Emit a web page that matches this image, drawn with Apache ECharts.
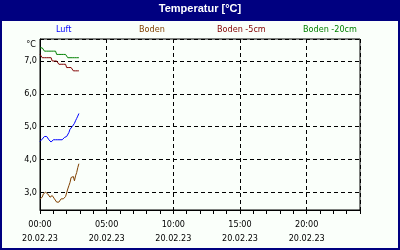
<!DOCTYPE html>
<html><head><meta charset="utf-8">
<script src="https://cdn.jsdelivr.net/npm/echarts@6/dist/echarts.min.js"></script>
<style>html,body{margin:0;padding:0;background:#fafffa}#c{width:400px;height:250px}</style>
</head><body><div id="c"></div><script>
const times = ['00:00','00:05','00:10','00:15','00:20','00:25','00:30','00:35','00:40','00:45','00:50','00:55',
  '01:00','01:05','01:10','01:15','01:20','01:25','01:30','01:35','01:40','01:45','01:50','01:55',
  '02:00','02:05','02:10','02:15','02:20','02:25','02:30','02:35','02:40','02:45','02:50','02:55'];
const luft = [4.55,4.52,4.62,4.67,4.70,4.70,4.70,4.68,4.60,4.55,4.53,4.58,
  4.60,4.60,4.60,4.60,4.60,4.60,4.60,4.60,4.60,4.62,4.67,4.70,
  4.70,4.72,4.82,4.92,4.97,5.00,5.05,5.10,5.18,5.25,5.32,5.40];
const boden = [2.80,2.75,2.85,2.95,3.00,3.00,3.00,2.95,2.90,2.85,2.85,2.90,
  2.88,2.80,2.75,2.70,2.70,2.70,2.75,2.80,2.80,2.80,2.82,2.87,
  2.92,3.10,3.20,3.30,3.45,3.40,3.48,3.35,3.50,3.60,3.75,3.87];
const boden5 = [7.2,7.2,7.1,7.1,7.1,7.1,7.1,7.1,7.1,7.1,7.1,7.0,
  7.0,7.0,7.0,7.0,7.0,6.9,6.9,6.9,6.9,6.9,6.9,6.9,
  6.8,6.8,6.8,6.8,6.8,6.8,6.7,6.7,6.7,6.7,6.7,6.7];
const boden20 = [7.4,7.4,7.4,7.4,7.3,7.3,7.3,7.3,7.3,7.3,7.3,7.3,
  7.3,7.3,7.3,7.2,7.2,7.2,7.2,7.2,7.2,7.2,7.2,7.2,
  7.2,7.1,7.1,7.1,7.1,7.1,7.1,7.1,7.1,7.1,7.1,7.1];
const seriesNames = ['Luft','Boden','Boden -5cm','Boden -20cm'];
const seriesColors = ['#0000ff','#804000','#800000','#008000'];
const xTickLabels = ['00:00','05:00','10:00','15:00','20:00'];
const xDateLabel = '20.02.23';
const yTickLabels = {3:'3,0',4:'4,0',5:'5,0',6:'6,0',7:'7,0'};

const FONT = "'DejaVu Sans Condensed','DejaVu Sans',sans-serif";
const toHours = t => { const p = t.split(':'); return +p[0] + (+p[1]) / 60; };
const mk = arr => times.map((t, i) => [toHours(t), arr[i]]);
const dataSets = [luft, boden, boden5, boden20];
const legendLeft = [51, 134, 212, 298];

const chart = echarts.init(document.getElementById('c'), null, {renderer: 'canvas'});
chart.setOption({
  animation: false,
  backgroundColor: '#fafffa',
  graphic: [
    {type: 'rect', z: 0, shape: {x: 0, y: 0, width: 400, height: 21}, style: {fill: '#000080'}},
    {type: 'rect', z: 0, shape: {x: 1, y: 1, width: 398, height: 248}, style: {fill: 'none', stroke: '#000080', lineWidth: 2}}
  ],
  title: {text: 'Temperatur [°C]', left: 'center', top: 3, padding: 0,
    textStyle: {color: '#fff', fontSize: 11, fontWeight: 'bold', fontFamily: "'Liberation Sans',Arial,sans-serif"}},
  legend: seriesNames.map((n, i) => ({
    left: legendLeft[i], top: 25, padding: 0, itemWidth: 0, itemHeight: 0, icon: 'rect',
    selectedMode: false,
    data: [{name: n, textStyle: {color: seriesColors[i]}}],
    textStyle: {fontSize: 9, fontFamily: FONT}
  })),
  grid: {left: 40, top: 39, width: 320, height: 171, show: true, borderColor: '#000', borderWidth: 1, backgroundColor: 'transparent'},
  xAxis: [
    {type: 'value', min: 0, max: 24, interval: 1, position: 'bottom',
      axisLine: {show: true, lineStyle: {color: '#000', width: 1}},
      axisTick: {show: true, length: 4, lineStyle: {color: '#000'}},
      axisLabel: {show: false}, splitLine: {show: false}},
    {type: 'value', min: 0, max: 24, splitNumber: 5, minInterval: 5, maxInterval: 5, position: 'bottom',
      axisLine: {show: false}, axisTick: {show: false},
      axisLabel: {show: true, margin: 8, showMaxLabel: false, color: '#000', fontSize: 9, fontFamily: FONT, lineHeight: 14,
        formatter: v => { const k = Math.round(v / 5); return (v % 5 === 0 && xTickLabels[k]) ? xTickLabels[k] + '\n' + xDateLabel : ''; }},
      splitLine: {show: true, lineStyle: {color: '#000', type: [4, 3], width: 1}}}
  ],
  yAxis: {type: 'value', min: 2.46, max: 7.67, splitNumber: 5, minInterval: 1, maxInterval: 1,
    name: '°C', nameLocation: 'end', nameGap: -6,
    nameTextStyle: {color: '#000', fontSize: 9, fontFamily: FONT, align: 'right', verticalAlign: 'middle', padding: [0, 4, 0, 0]},
    axisLine: {show: true, lineStyle: {color: '#000'}}, axisTick: {show: false},
    axisLabel: {margin: 3, showMinLabel: false, showMaxLabel: false, color: '#000', fontSize: 9, fontFamily: FONT,
      formatter: v => yTickLabels[Math.round(v)] && Math.abs(v - Math.round(v)) < 1e-6 ? yTickLabels[Math.round(v)] : ''},
    splitLine: {show: true, lineStyle: {color: '#000', type: [4, 3], width: 1}}},
  series: seriesNames.map((n, i) => ({
    name: n, type: 'line', xAxisIndex: 0, data: mk(dataSets[i]), showSymbol: false, symbol: 'none',
    lineStyle: {color: seriesColors[i], width: 1}, itemStyle: {color: seriesColors[i]}
  }))
});
</script></body></html>
